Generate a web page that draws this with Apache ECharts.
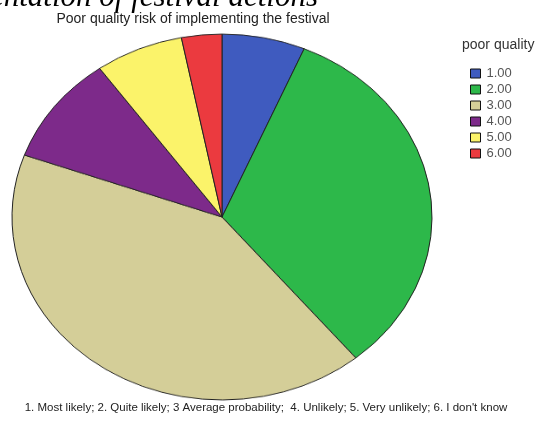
<!DOCTYPE html>
<html>
<head>
<meta charset="utf-8">
<script src="https://cdn.jsdelivr.net/npm/echarts@6/dist/echarts.min.js"></script>
<style>
    html, body { margin: 0; padding: 0; background: #fff; }
    #wrap { position: relative; width: 537px; height: 426px; overflow: hidden; }
    /* pie is drawn as a circle and squashed into the ellipse of the original */
    #pie { position: absolute; left: 0; top: -5px; width: 444px; height: 444px; transform: scaleY(0.871); transform-origin: 222px 222px; }
    #main { position: absolute; left: 0; top: 0; width: 537px; height: 426px; }
</style>
</head>
<body>
<div id="wrap">
    <div id="pie"></div>
    <div id="main"></div>
</div>
<script>
// 风险等级
const categories = ['1.00', '2.00', '3.00', '4.00', '5.00', '6.00'];
// 百分比
const values = [6.4, 32.6, 41.5, 9.6, 6.8, 3.1];
const colors = ['#3f5bbf', '#2db84a', '#d4ce98', '#7d2a8a', '#fbf36a', '#eb3a3f'];

const pieData = categories.map((name, i) => ({ name: name, value: values[i] }));

const pieChart = echarts.init(document.getElementById('pie'));
pieChart.setOption({
    animation: false,
    color: colors,
    series: [{
        name: 'poor quality',
        type: 'pie',
        center: [222, 222],
        radius: 210,
        startAngle: 90,
        clockwise: true,
        label: { show: false },
        labelLine: { show: false },
        itemStyle: { borderColor: '#222', borderWidth: 1 },
        emphasis: { disabled: true },
        data: pieData
    }]
});

const mainChart = echarts.init(document.getElementById('main'));
mainChart.setOption({
    animation: false,
    color: colors,
    title: {
        text: 'Poor quality risk of implementing the festival',
        left: 188,
        top: 7,
        textAlign: 'center',
        textStyle: { fontFamily: 'Liberation Sans', fontSize: 14, fontWeight: 'normal', color: '#222' }
    },
    legend: {
        orient: 'vertical',
        left: 465,
        top: 62,
        itemWidth: 10,
        itemHeight: 9,
        itemGap: 3,
        icon: 'rect',
        itemStyle: { borderColor: '#111', borderWidth: 1 },
        textStyle: { fontFamily: 'Liberation Sans', fontSize: 13, color: '#555', padding: [0, 0, 0, 1] },
        data: categories
    },
    graphic: [
        {
            type: 'text',
            x: 318,
            y: 13,
            style: {
                text: 'implementation of festival actions',
                font: 'italic 31px "Liberation Serif"',
                fill: '#000',
                textAlign: 'right',
                textVerticalAlign: 'bottom'
            }
        },
        {
            type: 'text',
            x: 462,
            y: 45,
            style: {
                text: 'poor quality',
                font: '14px "Liberation Sans"',
                fill: '#333',
                textAlign: 'left',
                textVerticalAlign: 'middle'
            }
        },
        {
            type: 'text',
            x: 266,
            y: 408,
            style: {
                text: "1. Most likely; 2. Quite likely; 3 Average probability;  4. Unlikely; 5. Very unlikely; 6. I don't know",
                font: '11.5px "Liberation Sans"',
                fill: '#222',
                textAlign: 'center',
                textVerticalAlign: 'middle'
            }
        }
    ],
    // hidden copy of the pie, only so the legend has items to show
    series: [{
        name: 'poor quality',
        type: 'pie',
        center: [-100, -100],
        radius: 0,
        silent: true,
        label: { show: false },
        labelLine: { show: false },
        data: pieData
    }]
});
</script>
</body>
</html>
